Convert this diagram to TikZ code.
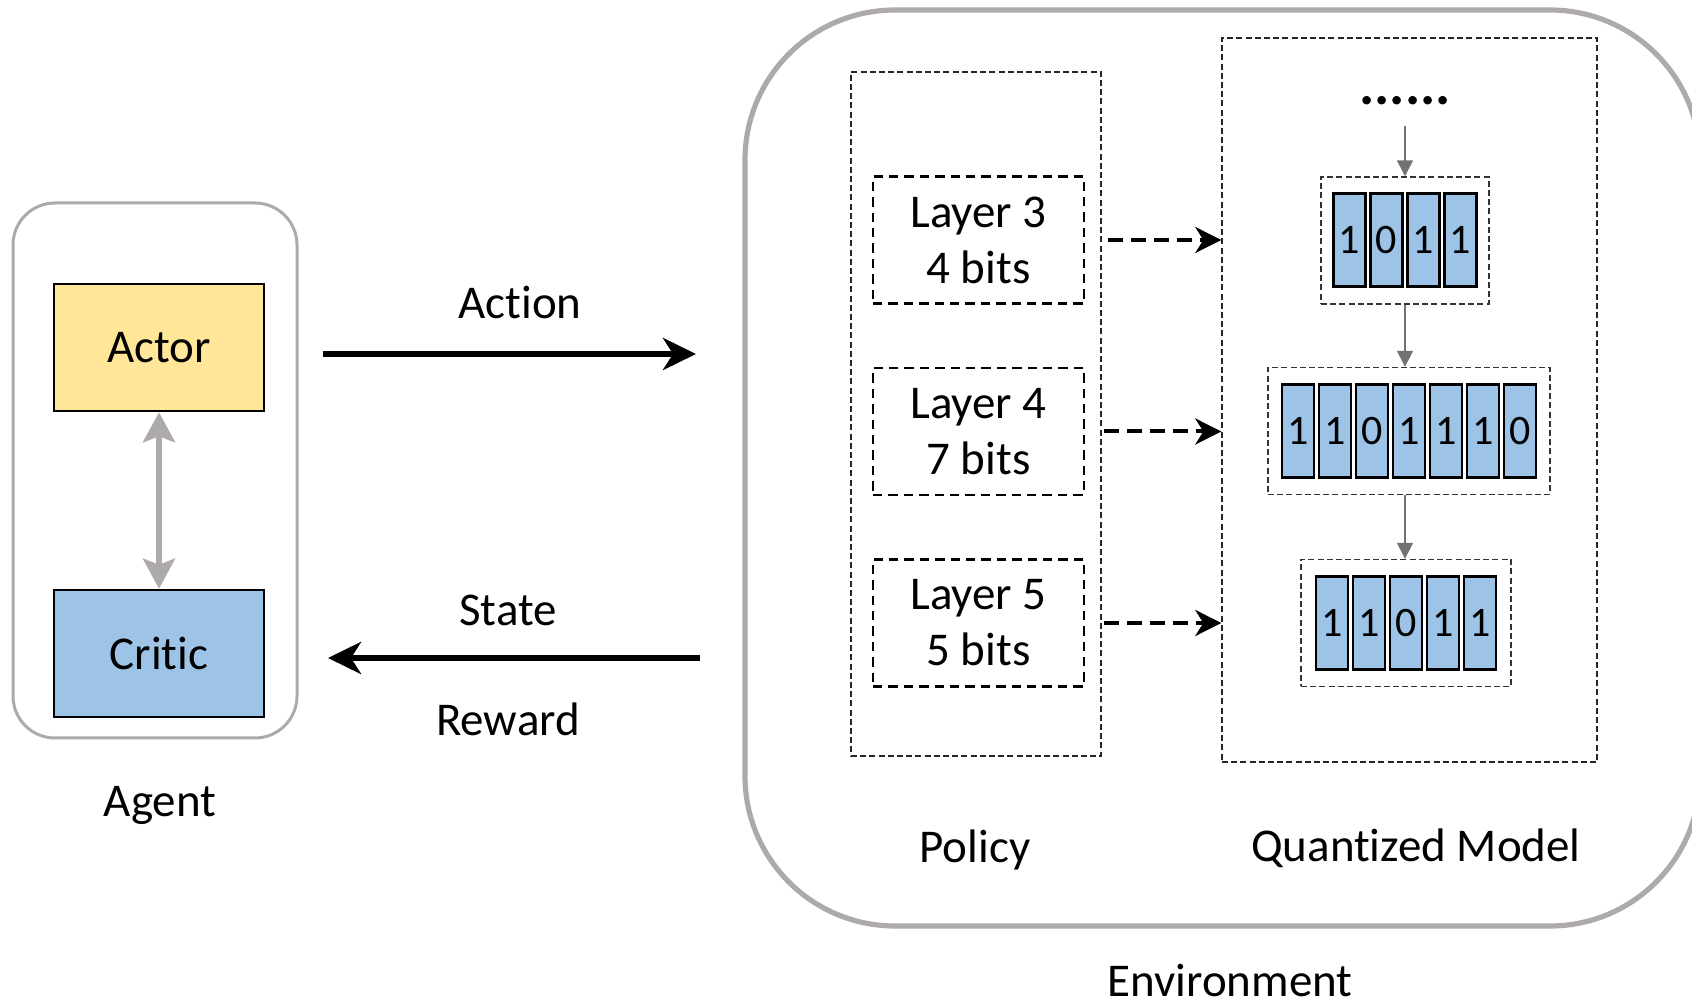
\documentclass[tikz,border=0pt]{standalone}
\usepackage{fontspec}
\setmainfont{Carlito}[Ligatures={NoCommon,NoRequired,NoContextual}]
\usetikzlibrary{arrows.meta}
\definecolor{actorfill}{HTML}{FFE699}
\definecolor{bluefill}{HTML}{9DC3E6}
\definecolor{boxgray}{HTML}{AEAAAA}
\definecolor{arrgray}{HTML}{767171}
\tikzset{
  bigfont/.style={font=\fontsize{23.5pt}{28pt}\selectfont},
  lbl/.style={bigfont, inner sep=0pt, anchor=base},
  agentframe/.style={draw=boxgray, line width=1.5pt, rounded corners=21pt},
  envframe/.style={draw=boxgray, line width=2.6pt, rounded corners=75pt},
  rolebox/.style={draw=black, line width=1.3pt, bigfont, minimum width=105pt, minimum height=63.5pt, inner sep=0pt},
  container/.style={draw=black!85, line width=0.7pt, dash pattern=on 3pt off 1.6pt},
  layerbox/.style={draw=black, line width=1.3pt, dash pattern=on 4.7pt off 3pt, bigfont, align=center,
                   minimum width=105.5pt, minimum height=63.5pt, inner sep=0pt},
  groupbox/.style={draw=black!80, line width=0.7pt, dash pattern=on 3pt off 1.6pt, minimum height=63.5pt, inner sep=0pt},
  cell/.style={draw=black, fill=bluefill, line width=1.3pt, minimum width=16pt, minimum height=46.5pt,
               inner sep=0pt, font=\fontsize{21pt}{24pt}\selectfont},
  mainarrow/.style={draw=black, line width=3pt, -{Stealth[length=16.5pt, width=16pt, inset=5pt]}},
  duoarrow/.style={draw=boxgray, line width=2.6pt,
                   {Stealth[length=15pt, width=16pt, inset=3pt]}-{Stealth[length=15pt, width=16pt, inset=3pt]}},
  dasharrow/.style={draw=black, line width=2pt, dash pattern=on 7.5pt off 4pt,
                    -{Stealth[length=13pt, width=13pt, inset=4pt]}},
  grayarrow/.style={draw=arrgray, line width=0.8pt, -{Triangle[length=8pt, width=8pt]}}
}
\begin{document}
\begin{tikzpicture}[x=0.5pt, y=-0.5pt]
\clip (0,0) rectangle (1692,1004);
\fill[white] (0,0) rectangle (1692,1004);

% Agent
\node[agentframe, minimum width=142pt, minimum height=267.5pt] (agentbox) at (155,470.5) {};
\node[rolebox, fill=actorfill] (actor) at (159,347.5) {Actor};
\node[rolebox, fill=bluefill] (critic) at (159,653.5) {Critic};
\draw[duoarrow] (actor.south) -- (critic.north);
\node[lbl] (agentlbl) at (160,817) {Agent};

% Environment
\node[envframe, minimum width=477.5pt, minimum height=458pt] (envbox) at (1222.5,468) {};
\node[lbl] (envlbl) at (1230,996) {Environment};

% Action / State
\coordinate (acts) at (323,354);
\coordinate (acte) at (696,354);
\coordinate (sts) at (700,658);
\coordinate (ste) at (328,658);
\draw[mainarrow] (acts) -- (acte);
\draw[mainarrow] (sts) -- (ste);
\node[lbl] (actlbl) at (520,319) {Action};
\node[lbl] (stlbl) at (508,626) {State};
\node[lbl] (rwlbl) at (508,736) {Reward};

% Policy
\node[container, minimum width=125pt, minimum height=342pt] (policy) at (976,414) {};
\node[lbl] (pollbl) at (975,863) {Policy};
\node[layerbox] (l3) at (978.5,240) {Layer 3\\4 bits};
\node[layerbox] (l4) at (978.5,431.5) {Layer 4\\7 bits};
\node[layerbox] (l5) at (978.5,623) {Layer 5\\5 bits};

% Quantized model
\node[container, minimum width=187.5pt, minimum height=362pt] (qm) at (1409.5,400) {};
\node[lbl] (qmlbl) at (1416,861) {Quantized Model};
\node[inner sep=0pt, anchor=base, font=\fontsize{28.5pt}{30pt}\selectfont\bfseries] (dots) at (1405,105) {......};

\node[groupbox, minimum width=84pt] (g1) at (1405,240.5) {};
\node[groupbox, minimum width=141pt] (g2) at (1409,431) {};
\node[groupbox, minimum width=105pt] (g3) at (1406,623) {};

\foreach \b [count=\i] in {1,0,1,1}
  \node[cell] (ca\i) at ({1349.5+37*(\i-1)},240) {\b};
\foreach \b [count=\i] in {1,1,0,1,1,1,0}
  \node[cell] (cb\i) at ({1298+37*(\i-1)},431) {\b};
\foreach \b [count=\i] in {1,1,0,1,1}
  \node[cell] (cc\i) at ({1332+37*(\i-1)},623) {\b};

\draw[grayarrow] ([yshift=-10pt]dots.south) -- (g1.north);
\draw[grayarrow] (g1.south) -- (g1.south |- g2.north);
\draw[grayarrow] (g1.south |- g2.south) -- (g1.south |- g3.north);

% Layer -> model
\draw[dasharrow] ([xshift=3pt]l3.east -| policy.east) -- (l3.east -| qm.west);
\draw[dasharrow] ([xshift=1pt]l4.east -| policy.east) -- (l4.east -| qm.west);
\draw[dasharrow] ([xshift=1pt]l5.east -| policy.east) -- (l5.east -| qm.west);
\end{tikzpicture}
\end{document}
